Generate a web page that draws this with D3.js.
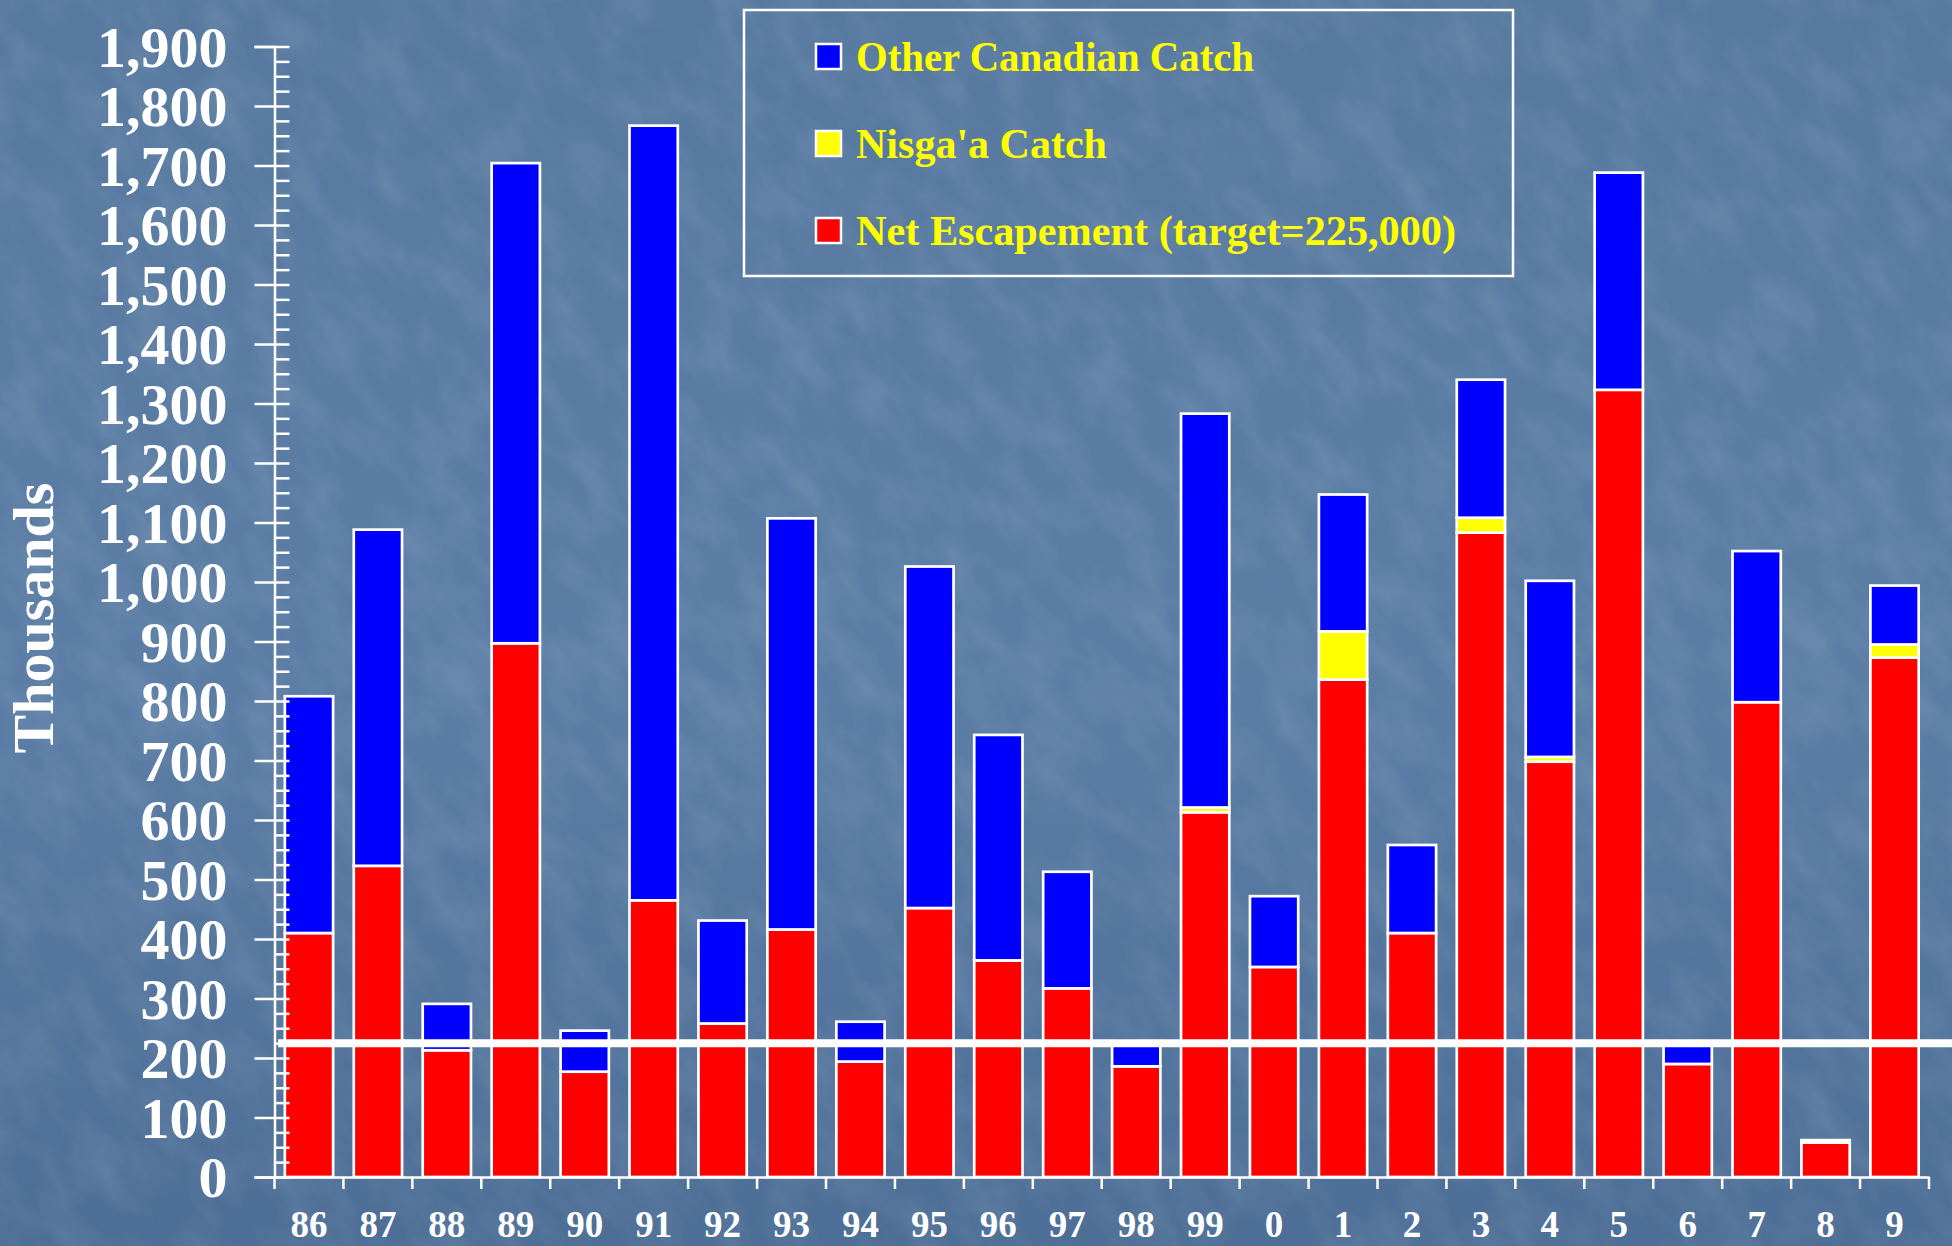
<!DOCTYPE html>
<html>
<head>
<meta charset="utf-8">
<script src="https://cdn.jsdelivr.net/npm/d3@7"></script>
<style>
  body { margin: 0; background: #587aa0; }
  svg { display: block; }
</style>
</head>
<body>
<svg class="chart"></svg>
<script>
//Chart data (thousands of fish)
const years = ['86', '87', '88', '89', '90', '91', '92', '93', '94', '95', '96', '97',
  '98', '99', '0', '1', '2', '3', '4', '5', '6', '7', '8', '9'];
const escapement = [410, 523, 213, 897, 177, 465, 258, 416, 194, 452, 364, 317,
  186, 613, 353, 836, 410, 1083, 698, 1323, 190, 798, 58, 873];
const nisgaCatch = [0, 0, 0, 0, 0, 0, 0, 0, 0, 0, 0, 0,
  0, 8, 0, 81, 0, 25, 8, 0, 0, 0, 0, 22];
const otherCatch = [398, 565, 78, 807, 69, 1302, 173, 691, 67, 574, 379, 196,
  38, 662, 119, 230, 148, 232, 296, 365, 32, 254, 4, 99];
const legendLabels = ['Other Canadian Catch', "Nisga'a Catch", 'Net Escapement (target=225,000)'];
const legendColors = ['#0000ff', '#ffff00', '#ff0000'];
const yTickValues = d3.range(0, 1901, 100);
const target = 225;

const width = 1952;
const height = 1246;
const fontFamily = '"Liberation Serif", "Times New Roman", serif';

const svg = d3.select('.chart').attr('width', width).attr('height', height);

//Background with a light texture
const defs = svg.append('defs');
const grad = defs.append('linearGradient').attr('id', 'bg').attr('x1', 0).attr('y1', 0).attr('x2', 0).attr('y2', 1);
grad.append('stop').attr('offset', '0%').attr('stop-color', '#57799f');
grad.append('stop').attr('offset', '55%').attr('stop-color', '#5c7ea6');
grad.append('stop').attr('offset', '100%').attr('stop-color', '#4d6e96');
const tex = defs.append('filter').attr('id', 'tex').attr('x', 0).attr('y', 0).attr('width', 1).attr('height', 1);
tex.append('feTurbulence').attr('type', 'fractalNoise').attr('baseFrequency', '0.03 0.015')
  .attr('numOctaves', 3).attr('seed', 7).attr('result', 'noise');
tex.append('feColorMatrix').attr('in', 'noise').attr('type', 'matrix')
  .attr('values', '0 0 0 0 1  0 0 0 0 1  0 0 0 0 1  0.6 0 0 0 -0.22');

svg.append('rect').attr('width', width).attr('height', height).attr('fill', 'url(#bg)');
svg.append('g').attr('transform', 'rotate(-35 976 623)')
  .append('rect').attr('x', -600).attr('y', -600).attr('width', width + 1200).attr('height', height + 1200)
  .attr('filter', 'url(#tex)').attr('opacity', 0.3);

//Scales
const x = d3.scaleBand().domain(years).range([274.5, 1929]).paddingInner(0.3).paddingOuter(0.15);
const y = d3.scaleLinear().domain([0, 1900]).range([1177, 46.5]);

//Stacked data
const rows = years.map((yr, i) => ({
  year: yr,
  escapement: escapement[i],
  nisga: nisgaCatch[i],
  other: otherCatch[i]
}));
const keys = ['escapement', 'nisga', 'other'];
const keyColors = { escapement: '#ff0000', nisga: '#ffff00', other: '#0000ff' };
const stacked = d3.stack().keys(keys)(rows);

const bars = svg.append('g');
stacked.forEach(series => {
  bars.append('g')
    .selectAll('rect')
    .data(series.filter(d => d[1] - d[0] > 0))
    .enter()
    .append('rect')
    .attr('x', d => x(d.data.year))
    .attr('width', x.bandwidth())
    .attr('y', d => y(d[1]))
    .attr('height', d => y(d[0]) - y(d[1]))
    .attr('fill', keyColors[series.key])
    .attr('stroke', 'white')
    .attr('stroke-width', 2.7);
});

//Target line
svg.append('line')
  .attr('x1', 278).attr('x2', width)
  .attr('y1', y(target)).attr('y2', y(target))
  .attr('stroke', 'white').attr('stroke-width', 8);

//Y axis
const yAxis = svg.append('g')
  .attr('transform', 'translate(274.5,0)')
  .call(d3.axisLeft(y).tickValues(yTickValues).tickSize(20).tickPadding(27)
    .tickFormat(d3.format(',')));
yAxis.select('.domain').attr('stroke', 'white').attr('stroke-width', 2.5);
yAxis.selectAll('.tick line').attr('stroke', 'white').attr('stroke-width', 2.5);
yAxis.selectAll('.tick text')
  .attr('fill', 'white')
  .attr('font-family', fontFamily)
  .attr('font-weight', 'bold')
  .attr('font-size', 58)
  .attr('dy', '0.34em');

const yMinor = svg.append('g')
  .attr('transform', 'translate(274.5,0)')
  .call(d3.axisRight(y).tickValues(d3.range(0, 1901, 25)).tickSize(15).tickFormat(''));
yMinor.select('.domain').remove();
yMinor.selectAll('.tick line').attr('stroke', 'white').attr('stroke-width', 2.5);

//X axis
const xAxis = svg.append('g')
  .attr('transform', `translate(0,${y(0)})`)
  .call(d3.axisBottom(x).tickSize(0).tickPadding(34));
xAxis.select('.domain').attr('stroke', 'white').attr('stroke-width', 2.5);
xAxis.selectAll('.tick text')
  .attr('fill', 'white')
  .attr('font-family', fontFamily)
  .attr('font-weight', 'bold')
  .attr('font-size', 37);

//Category separators below the axis
const step = x.step();
xAxis.append('g')
  .selectAll('line')
  .data(d3.range(years.length + 1))
  .enter()
  .append('line')
  .attr('x1', i => x.range()[0] + i * step)
  .attr('x2', i => x.range()[0] + i * step)
  .attr('y1', 0)
  .attr('y2', 12)
  .attr('stroke', 'white')
  .attr('stroke-width', 2.5);

//Y title
svg.append('text')
  .attr('transform', 'translate(53,618) rotate(-90)')
  .attr('text-anchor', 'middle')
  .attr('fill', 'white')
  .attr('font-family', fontFamily)
  .attr('font-weight', 'bold')
  .attr('font-size', 58)
  .text('Thousands');

//Legend
const legend = svg.append('g');
legend.append('rect')
  .attr('x', 744).attr('y', 10)
  .attr('width', 769).attr('height', 266)
  .attr('fill', 'none')
  .attr('stroke', 'white')
  .attr('stroke-width', 2.5);

const legendRowsY = [71, 158, 245];
const legendTextWidth = [398, 251, 600];
const items = legend.selectAll('g.item')
  .data(legendLabels)
  .enter()
  .append('g')
  .attr('class', 'item')
  .attr('transform', (d, i) => `translate(0,${legendRowsY[i]})`);

items.append('rect')
  .attr('x', 816).attr('y', -27)
  .attr('width', 25).attr('height', 25)
  .attr('fill', (d, i) => legendColors[i])
  .attr('stroke', 'white')
  .attr('stroke-width', 2.5);

items.append('text')
  .attr('x', 856)
  .attr('y', 0)
  .attr('fill', '#ffff00')
  .attr('font-family', fontFamily)
  .attr('font-weight', 'bold')
  .attr('font-size', 43)
  .attr('textLength', (d, i) => legendTextWidth[i])
  .attr('lengthAdjust', 'spacingAndGlyphs')
  .text(d => d);
</script>
</body>
</html>
